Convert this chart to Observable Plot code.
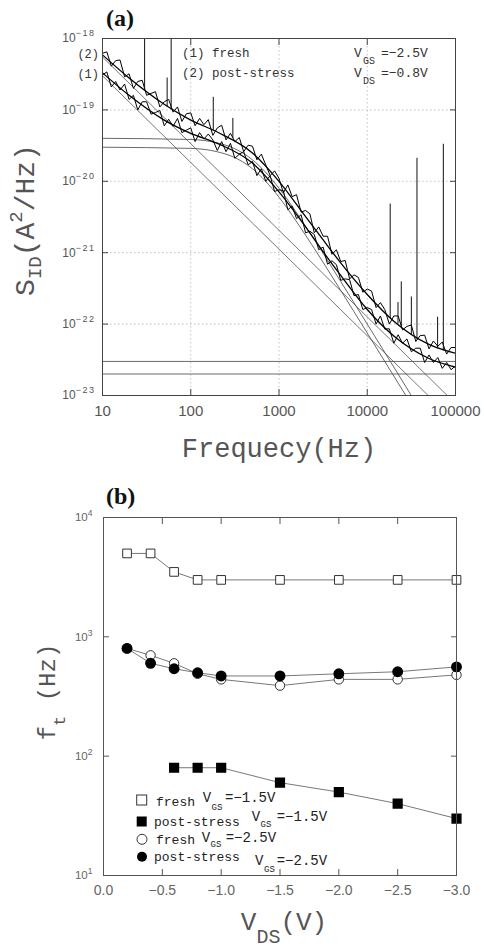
<!DOCTYPE html>
<html><head><meta charset="utf-8">
<script src="https://cdn.jsdelivr.net/npm/d3@7"></script>
<script src="https://cdn.jsdelivr.net/npm/@observablehq/plot@0.6"></script>
<style>
body{margin:0;background:#fff;width:484px;height:949px;overflow:hidden;position:relative}
#a,#b{position:absolute;left:0}
#a{top:0}#b{top:480px}
</style></head><body>
<div id="a"></div><div id="b"></div>
<script>
// ---------- Panel (a): noise spectra ----------
const freqA = [10,11.2,12.6,14.1,15.8,17.8,20,22.4,25.1,28.2,31.6,35.5,39.8,44.7,50.1,56.2,63.1,70.8,79.4,89.1,
100,112,126,141,158,178,200,224,251,282,316,355,398,447,501,562,631,708,794,891,
1000,1120,1260,1410,1580,1780,2000,2240,2510,2820,3160,3550,3980,4470,5010,5620,6310,7080,7940,8910,
10000,11200,12600,14100,15800,17800,20000,22400,25100,28200,31600,35500,39800,44700,50100,56200,63100,70800,79400,89100,100000];
const measured2 = [6.2e-19,6.5e-19,4.1e-19,4.9e-19,5.0e-19,2.9e-19,3.2e-19,2.0e-19,2.5e-19,2.6e-19,
1.6e-19,1.7e-19,1.8e-19,1.1e-19,1.3e-19,1.4e-19,9.3e-20,1.1e-19,6.9e-20,8.8e-20,
9.1e-20,6.0e-20,7.6e-20,6.2e-20,7.3e-20,4.4e-20,5.6e-20,6.1e-20,3.8e-20,4.7e-20,
3.6e-20,4.1e-20,2.6e-20,3.2e-20,3.1e-20,2.0e-20,2.4e-20,1.7e-20,1.2e-20,1.4e-20,
1.1e-20,6.9e-21,8.9e-21,6.1e-21,6.5e-21,3.7e-21,3.9e-21,3.5e-21,1.9e-21,2.3e-21,
1.7e-21,1.7e-21,9.5e-22,1.1e-21,7.5e-22,7.8e-22,4.3e-22,4.9e-22,4.5e-22,2.8e-22,
3.1e-22,2.9e-22,1.7e-22,2.0e-22,1.6e-22,1.0e-22,1.3e-22,1.3e-22,8.3e-23,9.3e-23,
9.7e-23,5.7e-23,6.9e-23,7.0e-23,4.5e-23,5.8e-23,4.9e-23,5.6e-23,3.8e-23,4.7e-23,4.7e-23];
const measured1 = [3.1e-19,3.4e-19,2.1e-19,2.5e-19,1.9e-19,2.3e-19,1.4e-19,1.6e-19,1.0e-19,1.3e-19,
1.3e-19,8.7e-20,9.2e-20,9.8e-20,6.0e-20,7.4e-20,5.9e-20,7.6e-20,4.8e-20,5.2e-20,
5.6e-20,3.6e-20,4.8e-20,3.9e-20,4.6e-20,3.8e-20,2.7e-20,3.6e-20,2.6e-20,3.4e-20,
2.1e-20,2.4e-20,2.6e-20,1.7e-20,1.9e-20,1.2e-20,1.5e-20,1.0e-20,1.2e-20,7.2e-21,
7.6e-21,7.4e-21,4.0e-21,4.5e-21,3.0e-21,3.4e-21,1.9e-21,2.0e-21,1.8e-21,1.1e-21,
1.2e-21,6.9e-22,7.7e-22,6.8e-22,4.1e-22,4.3e-22,4.2e-22,2.5e-22,2.6e-22,1.6e-22,
1.7e-22,1.6e-22,1.0e-22,1.3e-22,8.5e-23,8.6e-23,5.4e-23,7.1e-23,5.4e-23,6.2e-23,
4.1e-23,4.6e-23,4.6e-23,2.9e-23,3.7e-23,2.9e-23,3.4e-23,2.4e-23,2.9e-23,2.3e-23,2.6e-23];
// interference spikes
const spikeF    = [30,54,60,180,300,18200,22300,24300,31600,36600,62700,72800];
const spikeBase = [1.9e-19,1.1e-19,1.0e-19,5e-20,4e-20,1.2e-22,1.0e-22,9e-23,7e-23,6e-23,4.5e-23,4.2e-23];
const spikeTop  = [1e-18,2.8e-19,1e-18,1.5e-19,7.6e-20,4.8e-21,2.0e-22,3.9e-22,2.4e-22,2.1e-20,1.25e-22,3.3e-20];
// fitted total spectra
const fitF = [10,20,50,100,200,500,1000,2000,3000,5000,10000,20000,50000,100000];
const fit2 = [5.9e-19,2.8e-19,1.2e-19,7.2e-20,4.9e-20,2.5e-20,1.0e-20,3.2e-21,1.65e-21,7.2e-22,2.6e-22,1.1e-22,5.2e-23,3.9e-23];
const fit1 = [3.3e-19,1.6e-19,7.2e-20,4.7e-20,3.4e-20,1.8e-20,7.1e-21,2.3e-21,1.13e-21,4.8e-22,1.6e-22,6.8e-23,3.3e-23,2.5e-23];
// Lorentzian components
const lorF = [10,100,200,300,500,700,1000,2000,5000,10000,20000,40000,100000];
const lor2 = [4e-20,3.85e-20,3.45e-20,2.94e-20,2e-20,1.35e-20,8e-21,2.35e-21,3.96e-22,1e-22,2.5e-23,6.2e-24,1e-24];
const lor1 = [3e-20,2.89e-20,2.59e-20,2.21e-20,1.5e-20,1.01e-20,6e-21,1.76e-21,2.97e-22,7.5e-23,1.87e-23,4.7e-24,7.5e-25];
// 1/f and white-noise components (end points)
const compF = [10,100000];
const flicker2 = [5.5e-19,7.7e-24];
const flicker1 = [3.0e-19,4.2e-24];
const white2 = [3e-23,3e-23];
const white1 = [2e-23,2e-23];
const xTicksA = [10,100,1000,10000,100000];
const yTicksA = [1e-23,1e-22,1e-21,1e-20,1e-19,1e-18];

// ---------- Panel (b): ft vs VDS ----------
const vds = [-0.2,-0.4,-0.6,-0.8,-1.0,-1.5,-2.0,-2.5,-3.0];
const ftFresh15 = [5000,5000,3500,3000,3000,3000,3000,3000,3000];
const vdsPost15 = [-0.6,-0.8,-1.0,-1.5,-2.0,-2.5,-3.0];
const ftPost15 = [80,80,80,60,50,40,30];
const ftFresh25 = [800,700,600,490,440,390,440,440,480];
const ftPost25 = [800,600,540,500,470,470,490,510,560];
const xTicksB = [0,-0.5,-1.0,-1.5,-2.0,-2.5,-3.0];
const yTicksB = [10,100,1000,10000];

const tab = (xs, ys) => xs.map((x,i)=>({x, y: ys[i]}));
const MONO = "'Liberation Mono','DejaVu Sans Mono',monospace";
const SANS = "'Liberation Sans',Arial,sans-serif";
const SERIF = "'Liberation Serif','DejaVu Serif',serif";

const svgA = Plot.plot({
  width:484, height:480, marginLeft:102, marginRight:29, marginTop:38, marginBottom:85,
  style:{fontFamily:SANS, background:"transparent", color:"#222"},
  x:{type:"log", domain:[10,1e5]},
  y:{type:"log", domain:[1e-23,1e-18]},
  marks:[
    Plot.gridX(xTicksA, {stroke:"#999", strokeOpacity:0.6, strokeDasharray:"1.5,2.5"}),
    Plot.gridY(yTicksA, {stroke:"#999", strokeOpacity:0.6, strokeDasharray:"1.5,2.5"}),
    Plot.line(tab(compF, flicker2), {x:"x", y:"y", stroke:"#555", strokeWidth:0.8, clip:true}),
    Plot.line(tab(compF, flicker1), {x:"x", y:"y", stroke:"#555", strokeWidth:0.8, clip:true}),
    Plot.line(tab(compF, white2), {x:"x", y:"y", stroke:"#444", strokeWidth:0.8, clip:true}),
    Plot.line(tab(compF, white1), {x:"x", y:"y", stroke:"#444", strokeWidth:0.8, clip:true}),
    Plot.line(tab(lorF, lor2), {x:"x", y:"y", stroke:"#444", strokeWidth:0.8, curve:"monotone-x", clip:true}),
    Plot.line(tab(lorF, lor1), {x:"x", y:"y", stroke:"#444", strokeWidth:0.8, curve:"monotone-x", clip:true}),
    Plot.line(tab(freqA, measured2), {x:"x", y:"y", stroke:"#000", strokeWidth:1, clip:true}),
    Plot.line(tab(freqA, measured1), {x:"x", y:"y", stroke:"#000", strokeWidth:1, clip:true}),
    Plot.ruleX(spikeF.map((f,i)=>({f, b:spikeBase[i], t:spikeTop[i]})), {x:"f", y1:"b", y2:"t", stroke:"#111", strokeWidth:1, clip:true}),
    Plot.line(tab(fitF, fit2), {x:"x", y:"y", stroke:"#000", strokeWidth:1.3, curve:"monotone-x", clip:true}),
    Plot.line(tab(fitF, fit1), {x:"x", y:"y", stroke:"#000", strokeWidth:1.3, curve:"monotone-x", clip:true}),
    Plot.frame({stroke:"#444"}),
    Plot.axisX(xTicksA, {anchor:"bottom", tickSize:0, tickPadding:10, fontSize:15, fill:"#555", tickFormat:d=>String(d), label:null}),
    Plot.axisX(xTicksA, {anchor:"bottom", tickSize:-6, fill:"none", stroke:"#444", label:null}),
    Plot.axisX(xTicksA, {anchor:"top", tickSize:-6, fill:"none", stroke:"#444", label:null}),
    Plot.axisY(yTicksA, {anchor:"left", tickSize:0, tickPadding:7, fontSize:12, fill:"#555", tickFormat:d=>"10^"+Math.round(Math.log10(d)), label:null}),
    Plot.axisY(yTicksA, {anchor:"left", tickSize:-6, fill:"none", stroke:"#444", label:null}),
    Plot.axisY(yTicksA, {anchor:"right", tickSize:-6, fill:"none", stroke:"#444", label:null})
  ]
});
document.getElementById("a").appendChild(svgA);

const svgB = Plot.plot({
  width:484, height:469, marginLeft:103, marginRight:28, marginTop:37, marginBottom:74,
  style:{fontFamily:SANS, background:"transparent", color:"#222"},
  x:{type:"linear", domain:[0,-3]},
  y:{type:"log", domain:[10,1e4]},
  marks:[
    Plot.line(tab(vds, ftFresh15), {x:"x", y:"y", stroke:"#555", strokeWidth:0.8}),
    Plot.line(tab(vdsPost15, ftPost15), {x:"x", y:"y", stroke:"#555", strokeWidth:0.8}),
    Plot.line(tab(vds, ftFresh25), {x:"x", y:"y", stroke:"#555", strokeWidth:0.8}),
    Plot.line(tab(vds, ftPost25), {x:"x", y:"y", stroke:"#555", strokeWidth:0.8}),
    Plot.dot(tab(vds, ftFresh15), {x:"x", y:"y", symbol:"square", r:4.9, fill:"#fff", stroke:"#333", strokeWidth:1}),
    Plot.dot(tab(vdsPost15, ftPost15), {x:"x", y:"y", symbol:"square", r:4.9, fill:"#000", stroke:"#000"}),
    Plot.dot(tab(vds, ftFresh25), {x:"x", y:"y", r:4.7, fill:"#fff", stroke:"#333", strokeWidth:1}),
    Plot.dot(tab(vds, ftPost25), {x:"x", y:"y", r:4.7, fill:"#000", stroke:"#000"}),
    Plot.frame({stroke:"#555"}),
    Plot.axisX(xTicksB, {anchor:"bottom", tickSize:0, tickPadding:10, fontSize:14, fill:"#666", tickFormat:d=>d===0?"0.0":d3.format(".1f")(d), label:null}),
    Plot.axisX(xTicksB, {anchor:"bottom", tickSize:-6, fill:"none", stroke:"#555", label:null}),
    Plot.axisX(xTicksB, {anchor:"top", tickSize:-6, fill:"none", stroke:"#555", label:null}),
    Plot.axisY(yTicksB, {anchor:"left", tickSize:0, tickPadding:11, fontSize:11.5, fill:"#666", tickFormat:d=>"10^"+Math.round(Math.log10(d)), label:null}),
    Plot.axisY(yTicksB, {anchor:"left", tickSize:-6, fill:"none", stroke:"#555", label:null}),
    Plot.axisY(yTicksB, {anchor:"right", tickSize:-6, fill:"none", stroke:"#555", label:null})
  ]
});
document.getElementById("b").appendChild(svgB);

// superscript tick labels
function supLabels(svg, size, dy, ls) {
  d3.select(svg).selectAll('g[aria-label="y-axis tick label"] text').each(function(){
    const t = d3.select(this); const s = t.text(); const m = s.split("^");
    if (m.length < 2) return;
    t.text(null);
    t.append("tspan").text(m[0]);
    t.append("tspan").attr("dy", dy).attr("font-size", size).attr("letter-spacing", ls).text(m[1].replace("-", "\u2212"));
  });
}
supLabels(svgA, 9, -6, 1.5);
supLabels(svgB, 8.5, -5, 0);

// text helpers
function addText(svg, x, y, parts, o) {
  const t = d3.select(svg).append("text").attr("x", x).attr("y", y)
    .attr("font-family", o.family || MONO).attr("font-size", o.size).attr("fill", o.fill || "#222")
    .attr("text-anchor", o.anchor || "start");
  if (o.transform) t.attr("transform", o.transform);
  if (o.weight) t.attr("font-weight", o.weight);
  parts.forEach(p => {
    const s = t.append("tspan").text(p.t);
    if (p.size) s.attr("font-size", p.size);
    if (p.dy) s.attr("dy", p.dy);
    if (p.ls) s.attr("letter-spacing", p.ls);
  });
  return t;
}

// panel (a) texts
addText(svgA, 106, 26, [{t:"(a)"}], {family:SERIF, size:24, weight:"bold", fill:"#111"});
addText(svgA, 99, 58, [{t:"(2)"}], {size:12, anchor:"end", fill:"#333"});
addText(svgA, 99, 78, [{t:"(1)"}], {size:12, anchor:"end", fill:"#333"});
addText(svgA, 182, 57, [{t:"(1) fresh"}], {size:12.5, fill:"#333"});
addText(svgA, 182, 77, [{t:"(2) post-stress"}], {size:12.5, fill:"#333"});
addText(svgA, 354, 57, [{t:"V"}], {size:13, fill:"#333"});
addText(svgA, 363, 64, [{t:"GS"}], {size:10, fill:"#333"});
addText(svgA, 381, 57, [{t:"=\u22122.5V"}], {size:13, fill:"#333"});
addText(svgA, 354, 77, [{t:"V"}], {size:13, fill:"#333"});
addText(svgA, 363, 84, [{t:"DS"}], {size:10, fill:"#333"});
addText(svgA, 381, 77, [{t:"=\u22120.8V"}], {size:13, fill:"#333"});
addText(svgA, 279, 457, [{t:"Frequecy(Hz)"}], {size:27, anchor:"middle", fill:"#555"});
addText(svgA, 0, 0, [{t:"S"},{t:"ID", size:19, dy:7},{t:"(A", dy:-7},{t:"2", size:19, dy:-12},{t:"/Hz)", dy:12}],
  {size:28, anchor:"middle", fill:"#555", transform:"translate(34,220) rotate(-90)"});

// panel (b) texts
addText(svgB, 106, 24, [{t:"(b)"}], {family:SERIF, size:24, weight:"bold", fill:"#111"});
addText(svgB, 0, 0, [{t:"f"},{t:"t", size:17, dy:10},{t:" (Hz)", dy:-10}],
  {size:24, anchor:"middle", fill:"#555", transform:"translate(55,212) rotate(-90)"});
addText(svgB, 284, 450, [{t:"V"},{t:"DS", size:20, dy:13},{t:"(V)", dy:-13}], {size:26, anchor:"middle", fill:"#555"});

// legend (b)
const lg = d3.select(svgB).append("g");
lg.append("rect").attr("x",136.7).attr("y",315).attr("width",10).attr("height",10).attr("fill","#fff").attr("stroke","#333");
lg.append("rect").attr("x",136.7).attr("y",336.5).attr("width",10).attr("height",10).attr("fill","#000");
lg.append("circle").attr("cx",142).attr("cy",359.3).attr("r",5).attr("fill","#fff").attr("stroke","#333");
lg.append("circle").attr("cx",142).attr("cy",376.7).attr("r",5).attr("fill","#000");
addText(svgB, 156, 326, [{t:"fresh"}], {size:13});
addText(svgB, 154, 345.5, [{t:"post-stress"}], {size:13});
addText(svgB, 156, 364, [{t:"fresh"}], {size:13});
addText(svgB, 154, 381, [{t:"post-stress"}], {size:13});
const vg = [[202.7,322,211.5,329.5,225,"=\u22121.5V"],[251.7,341.2,260.5,346.6,276.7,"=\u22121.5V"],[201.7,361.5,210.5,366.5,225.7,"=\u22122.5V"],[255,385,264,391.7,276.7,"=\u22122.5V"]];
vg.forEach(r => {
  addText(svgB, r[0], r[1], [{t:"V"}], {size:14});
  addText(svgB, r[2], r[3], [{t:"GS"}], {size:9});
  addText(svgB, r[4], r[1], [{t:r[5]}], {size:14});
});
</script></body></html>
